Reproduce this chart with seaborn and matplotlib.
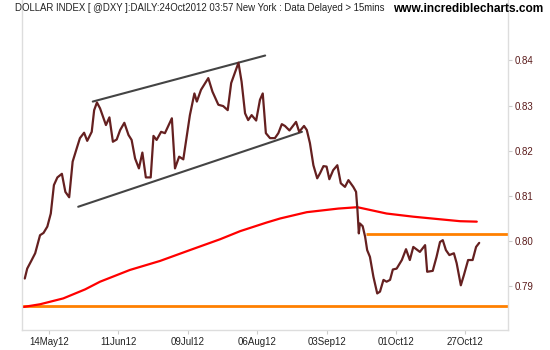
import numpy as np
import pandas as pd
import matplotlib
matplotlib.use("Agg")
import matplotlib.pyplot as plt
import seaborn as sns

# ---- data (x = trading-day offset from 14 May 2012) ----
price_day = [-7.0, -6.3, -5.0, -4.0, -2.6, -1.6, -0.5, 0.5, 1.4, 2.4, 3.7, 4.7, 5.8, 6.8, 8.0, 8.9,
             10.1, 11.0, 12.3, 13.0, 13.8, 14.7, 16.4, 17.4, 18.4, 19.5, 20.5, 21.7, 22.9, 23.8, 24.8,
             25.9, 26.9, 27.9, 29.3, 30.1, 31.0, 32.3, 33.4, 35.4, 36.3, 37.5, 38.7, 40.6, 41.9, 42.6,
             43.8, 45.9, 47.1, 48.8, 50.2, 51.5, 52.5, 54.6, 55.5, 56.5, 57.4, 58.4, 59.7, 60.8, 61.6,
             62.5, 63.7, 65.1, 66.1, 67.1, 68.0, 69.3, 71.2, 72.1, 73.5, 74.3, 75.2, 76.2, 77.3, 78.1,
             79.1, 80.0, 80.8, 81.9, 83.1, 84.1, 85.3, 86.3, 87.7, 88.5, 88.9, 89.3, 89.6, 90.4, 91.1,
             91.7, 92.5, 93.5, 94.6, 95.4, 96.4, 97.3, 98.3, 99.1, 100.2, 101.7, 102.9, 104.0, 105.0,
             106.9, 108.4, 109.0, 110.6, 111.7, 112.7, 113.5, 114.4, 115.4, 116.7, 117.5, 118.7, 119.6,
             120.8, 122.1, 123.1, 124.0]
price_val = [0.7917, 0.7939, 0.7958, 0.7973, 0.8013, 0.8018, 0.8032, 0.8061, 0.8124, 0.8141, 0.8149,
             0.8109, 0.8097, 0.8176, 0.8206, 0.8228, 0.8240, 0.8222, 0.8242, 0.8290, 0.8307, 0.8294,
             0.8257, 0.8274, 0.8220, 0.8225, 0.8246, 0.8262, 0.8235, 0.8224, 0.8183, 0.8161, 0.8196,
             0.8141, 0.8141, 0.8233, 0.8224, 0.8242, 0.8239, 0.8272, 0.8161, 0.8187, 0.8181, 0.8279,
             0.8327, 0.8309, 0.8335, 0.8361, 0.8331, 0.8302, 0.8299, 0.8290, 0.8350, 0.8395, 0.8353,
             0.8283, 0.8268, 0.8279, 0.8267, 0.8313, 0.8327, 0.8239, 0.8228, 0.8228, 0.8239, 0.8259,
             0.8255, 0.8245, 0.8264, 0.8242, 0.8255, 0.8246, 0.8217, 0.8168, 0.8139, 0.8150, 0.8166,
             0.8165, 0.8137, 0.8157, 0.8168, 0.8128, 0.8120, 0.8135, 0.8120, 0.8109, 0.8069, 0.8017,
             0.8039, 0.8033, 0.8010, 0.7980, 0.7965, 0.7921, 0.7884, 0.7888, 0.7914, 0.7910, 0.7914,
             0.7937, 0.7939, 0.7958, 0.7982, 0.7958, 0.7987, 0.7976, 0.7991, 0.7932, 0.7934, 0.7965,
             0.7998, 0.8002, 0.7980, 0.7969, 0.7973, 0.7951, 0.7902, 0.7925, 0.7958, 0.7958, 0.7987,
             0.7996]

ma_day = [-7.4, -2.6, 4.1, 10.4, 14.7, 23.3, 32.0, 40.6, 49.3, 55.1, 62.7, 66.6, 74.3, 80.0, 83.4,
          88.9, 92.5, 97.3, 105.0, 111.7, 118.5, 123.3]
ma_val = [0.7854, 0.7860, 0.7873, 0.7893, 0.7910, 0.7936, 0.7956, 0.7980, 0.8004, 0.8022, 0.8041,
          0.8050, 0.8064, 0.8069, 0.8072, 0.8075, 0.8069, 0.8061, 0.8054, 0.8049, 0.8044, 0.8043]

upper_trend_day = [12.6, 62.3]
upper_trend_val = [0.8309, 0.8411]
lower_trend_day = [8.4, 72.9]
lower_trend_val = [0.8076, 0.8242]

resistance_val = 0.8015
resistance_start = 91.4
support_val = 0.7857

tick_days = [0, 20, 40, 60, 80, 100, 120]
tick_labels = ["14May12", "11Jun12", "09Jul12", "06Aug12", "03Sep12", "01Oct12", "27Oct12"]
ytick_vals = [0.79, 0.80, 0.81, 0.82, 0.83, 0.84]

title = "DOLLAR INDEX [ @DXY ]:DAILY:24Oct2012 03:57 New York : Data Delayed > 15mins"
site = "www.incrediblecharts.com"

# ---- plot ----
sns.set_style("white")
plt.rcParams['font.family'] = ['Liberation Sans', 'DejaVu Sans']

fig = plt.figure(figsize=(5.5, 3.5), dpi=100)
ax = fig.add_axes([22 / 550, 20 / 350, (508 - 22) / 550, 330 / 350])

xmin, xmax = -7.8, 132.3
ax.set_xlim(xmin, xmax)
ax.set_ylim(0.7803, 0.8534)

# support / resistance
ax.plot([xmin, xmax], [support_val, support_val], color="#ff8000", lw=2.0, solid_capstyle="butt")
ax.plot([resistance_start, xmax], [resistance_val, resistance_val], color="#ff8000", lw=2.0,
        solid_capstyle="butt")

# moving average
ma_df = pd.DataFrame({"day": ma_day, "value": ma_val})
sns.lineplot(data=ma_df, x="day", y="value", ax=ax, color="#ff0000", lw=1.6, estimator=None)

# trend channel
ax.plot(upper_trend_day, upper_trend_val, color="#444444", lw=1.5)
ax.plot(lower_trend_day, lower_trend_val, color="#444444", lw=1.5)

# price
price_df = pd.DataFrame({"day": price_day, "value": price_val})
sns.lineplot(data=price_df, x="day", y="value", ax=ax, color="#652020", lw=1.6, estimator=None)

ax.set_xlabel("")
ax.set_ylabel("")

# axes styling
for side in ["left", "bottom", "right"]:
    ax.spines[side].set_color("#dddddd")
    ax.spines[side].set_linewidth(1.0)
ax.spines["top"].set_visible(False)

ax.yaxis.tick_right()
ax.set_yticks(ytick_vals)
ax.set_yticklabels([f"{v:.2f}" for v in ytick_vals], color="#5a1a1a", fontsize=7)
ax.set_xticks(tick_days)
ax.set_xticklabels(tick_labels, color="#222222", fontsize=7)
ax.tick_params(axis="both", which="both", length=3, width=0.8, color="#cccccc", pad=2)
ax.tick_params(axis="y", right=True, left=False)
ax.tick_params(axis="x", bottom=True)
ax.grid(False)

fig.text(15 / 550, 1 - 8 / 350, title, fontsize=6.9, color="#222222", va="center", ha="left")
fig.text(543 / 550, 1 - 9 / 350, site, fontsize=8.6, fontweight="bold", color="#000000",
         va="center", ha="right")

fig.savefig("out.png", dpi=100)
